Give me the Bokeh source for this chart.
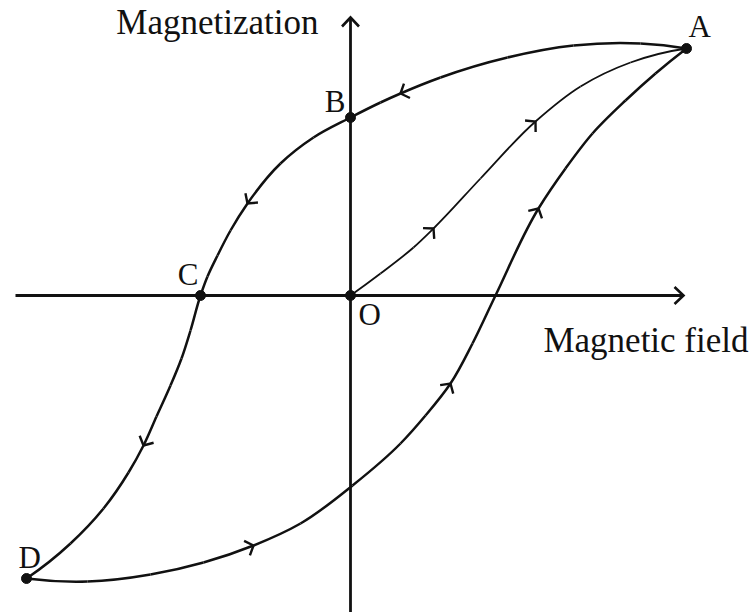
import numpy as np
from bokeh.plotting import figure
from bokeh.models import Range1d, ColumnDataSource
from bokeh.core.properties import value
from bokeh.embed import file_html
from bokeh.resources import INLINE

# ---- data (H = magnetic field, M = magnetization, arbitrary units) ----
# descending branch A -> B -> C -> D
desc_h = [3.36, 2.90, 2.23, 1.57, 0.90, 0.50, 0.30, 0.00,
          -0.37, -0.70, -1.03, -1.20, -1.33, -1.43, -1.50,
          -1.60, -1.69, -1.80, -1.94, -2.07, -2.22, -2.47, -2.80, -3.24]
desc_m = [2.47, 2.52, 2.50, 2.38, 2.18, 2.02, 1.93, 1.78,
          1.58, 1.32, 0.92, 0.65, 0.40, 0.19, 0.00,
          -0.35, -0.63, -0.90, -1.21, -1.50, -1.77, -2.13, -2.48, -2.83]
desc_arrows = [5, 10, 19]

# ascending branch D -> A
asc_h = [-3.24, -2.63, -2.00, -1.47, -0.97, -0.50, 0.02, 0.50, 0.75,
         1.00, 1.22, 1.45, 1.88, 2.15, 2.42, 2.75, 3.05, 3.36]
asc_m = [-2.83, -2.86, -2.79, -2.67, -2.50, -2.28, -1.90, -1.48, -1.20,
         -0.88, -0.48, 0.00, 0.87, 1.27, 1.62, 1.95, 2.22, 2.47]
asc_arrows = [4, 9, 12]

# initial magnetization curve O -> A
init_h = [0.00, 0.30, 0.63, 0.83, 1.30, 1.85, 2.30, 2.80, 3.36]
init_m = [0.00, 0.22, 0.48, 0.67, 1.17, 1.74, 2.09, 2.33, 2.47]
init_arrows = [3, 5]

# named points
pt_names = ["A", "B", "C", "O", "D"]
pt_h = [3.36, 0.00, -1.50, 0.00, -3.24]
pt_m = [2.47, 1.78, 0.00, 0.00, -2.83]

# axes extents
h_axis = [-3.35, 3.33]
m_axis = [-3.25, 2.78]

# ---- figure: 100 px per unit in both directions ----
W, H = 750, 612
p = figure(width=W, height=H, output_backend="svg", toolbar_location=None,
           x_range=Range1d(-3.50, 4.00), y_range=Range1d(-3.17, 2.95),
           min_border=0)
p.axis.visible = False
p.grid.visible = False
p.outline_line_color = None
p.background_fill_color = "white"
p.border_fill_color = "white"

INK = "#111111"


def _unit(v):
    return v / np.hypot(*v)


def bezier_src(xs, ys):
    P = np.column_stack([xs, ys]).astype(float)
    n = len(P)
    d = np.hypot(*(P[1:] - P[:-1]).T)
    T = np.zeros_like(P)
    for i in range(1, n - 1):
        u0 = (P[i] - P[i - 1]) / d[i - 1]
        u1 = (P[i + 1] - P[i]) / d[i]
        T[i] = _unit(u0 * d[i] + u1 * d[i - 1])
    u = _unit(P[1] - P[0])
    T[0] = _unit(2 * u * np.dot(u, T[1]) - T[1])
    u = _unit(P[-1] - P[-2])
    T[-1] = _unit(2 * u * np.dot(u, T[-2]) - T[-2])
    x0, y0, x1, y1, cx0, cy0, cx1, cy1 = ([] for _ in range(8))
    for i in range(n - 1):
        c1 = P[i] + T[i] * d[i] / 3.0
        c2 = P[i + 1] - T[i + 1] * d[i] / 3.0
        x0.append(P[i][0]); y0.append(P[i][1])
        x1.append(P[i + 1][0]); y1.append(P[i + 1][1])
        cx0.append(c1[0]); cy0.append(c1[1]); cx1.append(c2[0]); cy1.append(c2[1])
    return ColumnDataSource(dict(x0=x0, y0=y0, x1=x1, y1=y1,
                                 cx0=cx0, cy0=cy0, cx1=cx1, cy1=cy1))


def chevrons(xs, ys, idx, L, Wd):
    P = np.column_stack([xs, ys]).astype(float)
    mx, my = [], []
    for i in idx:
        t = _unit(P[min(i + 1, len(P) - 1)] - P[max(i - 1, 0)])
        nrm = np.array([-t[1], t[0]])
        tip = P[i]
        a = tip - L * t + Wd * nrm
        b = tip - L * t - Wd * nrm
        mx.append([a[0], tip[0], b[0]])
        my.append([a[1], tip[1], b[1]])
    return mx, my


# axes lines
p.line(x=h_axis, y=[0, 0], line_color=INK, line_width=2.8)
p.line(x=[0, 0], y=m_axis, line_color=INK, line_width=2.8)
ax_x, ax_y = chevrons(h_axis, [0, 0], [1], 0.09, 0.085)
ay_x, ay_y = chevrons([0, 0], m_axis, [1], 0.09, 0.085)
p.multi_line(xs=ax_x + ay_x, ys=ax_y + ay_y, line_color=INK, line_width=2.6,
             line_join="miter")

# curves
for xs, ys, lw in [(desc_h, desc_m, 2.5), (asc_h, asc_m, 2.5), (init_h, init_m, 1.8)]:
    p.bezier(x0="x0", y0="y0", x1="x1", y1="y1", cx0="cx0", cy0="cy0",
             cx1="cx1", cy1="cy1", source=bezier_src(xs, ys),
             line_color=INK, line_width=lw)

# direction chevrons
cx, cy = [], []
for xs, ys, idx in [(desc_h, desc_m, desc_arrows), (asc_h, asc_m, asc_arrows),
                    (init_h, init_m, init_arrows)]:
    a, b = chevrons(xs, ys, idx, 0.07, 0.078)
    cx += a; cy += b
p.multi_line(xs=cx, ys=cy, line_color=INK, line_width=2.4, line_join="miter")

# points
p.scatter(x=pt_h, y=pt_m, size=10, color=INK)

# point labels
FONT = value("Liberation Serif")
lab_dx = [2, -5, -2, 8, -8]
lab_dy = [-22, -16, -21, 19, -21]
lab_align = ["left", "right", "right", "left", "left"]
p.text(x=pt_h, y=pt_m, text=pt_names, x_offset=lab_dx, y_offset=lab_dy,
       text_align=lab_align, text_baseline="alphabetic", text_font=FONT,
       text_font_size="31px", text_color=INK)

# axis titles
p.text(x=[-0.32], y=[2.73], text=["Magnetization"], text_align="right",
       text_baseline="alphabetic", text_font=FONT, text_font_size="35px",
       text_color=INK)
p.text(x=[3.98], y=[-0.45], text=["Magnetic field"], text_align="right",
       text_baseline="alphabetic", text_font=FONT, text_font_size="35px",
       text_color=INK)

open("out.html", "w").write(file_html(p, INLINE))
